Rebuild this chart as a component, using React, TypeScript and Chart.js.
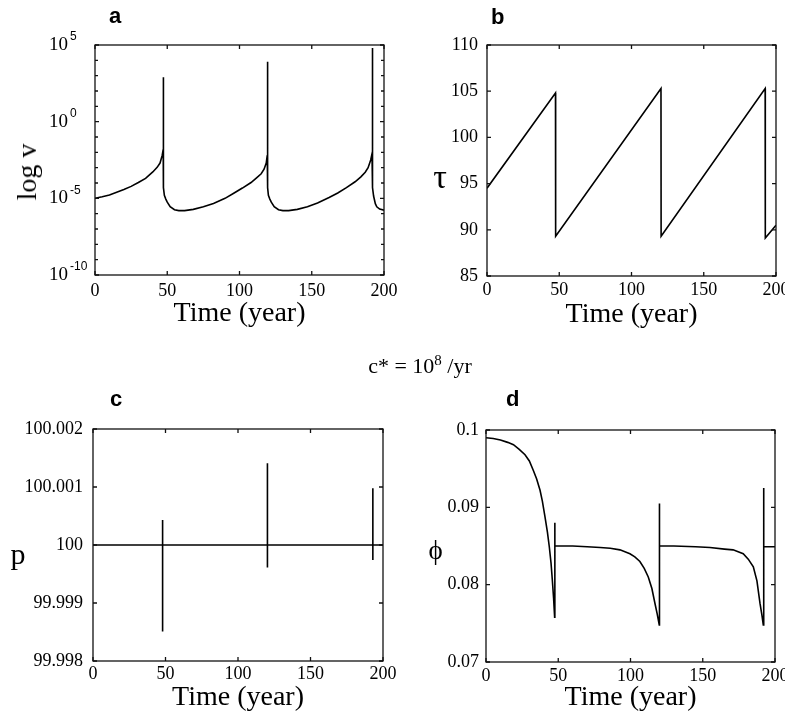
import React, { useEffect, useRef } from "react";
import { Chart, registerables } from "chart.js";
Chart.register(...registerables);

const W = 785;
const H = 723;
const SERIF = '"Liberation Serif", "Times New Roman", serif';
const SANS = '"Liberation Sans", Arial, sans-serif';

// shared time axis
const timeTicks = [0, 50, 100, 150, 200];
const timeTickLabels = ["0", "50", "100", "150", "200"];

// panel a : log v
const timeA = [0, 5, 10, 15, 20, 25, 30, 35, 40, 43, 45, 46.5, 47.2, 47.3, 47.4, 48, 49, 50, 52, 55, 58, 62, 68, 75, 82, 90, 96, 102, 108, 112, 115, 117, 118.5, 119.2, 119.4, 119.5, 120, 121, 122, 124, 127, 130, 134, 140, 147, 154, 162, 168, 174, 180, 184, 187, 189, 190.8, 191.7, 192, 192.1, 192.8, 194, 195, 197, 200];
const logVA = [-5.0, -4.9, -4.78, -4.6, -4.42, -4.22, -3.97, -3.7, -3.28, -2.98, -2.7, -2.2, -1.8, 2.9, -4.3, -4.8, -5.05, -5.25, -5.55, -5.74, -5.8, -5.8, -5.72, -5.55, -5.33, -5.0, -4.67, -4.33, -3.97, -3.65, -3.4, -3.1, -2.7, -2.2, 3.9, -4.3, -4.8, -5.05, -5.25, -5.55, -5.74, -5.8, -5.8, -5.72, -5.55, -5.3, -4.95, -4.65, -4.3, -3.92, -3.6, -3.3, -3.0, -2.5, -2.1, 4.8, -4.3, -4.85, -5.35, -5.55, -5.7, -5.77];
const yTicksA = [-10, -5, 0, 5];
const yExpA = ["-10", "-5", "0", "5"];
const yMinorA = [-9, -8, -7, -6, -4, -3, -2, -1, 1, 2, 3, 4];

// panel b : tau
const timeB = [0, 47.4, 47.5, 120.4, 120.5, 192.5, 192.6, 200];
const tauB = [94.5, 104.8, 89.3, 105.3, 89.3, 105.3, 89.1, 90.5];
const yTicksB = [85, 90, 95, 100, 105, 110];
const yLabelsB = ["85", "90", "95", "100", "105", "110"];

// panel c : p
const timeC = [0, 48, 48, 48, 48, 120.3, 120.3, 120.3, 120.3, 193, 193, 193, 193, 200];
const pC = [100, 100, 100.00043, 99.99851, 100, 100, 100.00141, 99.99961, 100, 100, 100.00098, 99.99974, 100, 100];
const yTicksC = [99.998, 99.999, 100, 100.001, 100.002];
const yLabelsC = ["99.998", "99.999", "100", "100.001", "100.002"];

// panel d : phi
const timeD = [0, 5, 10, 15, 19, 23, 27, 30, 32.7, 35, 37.4, 39, 40.8, 42.5, 43.8, 45, 45.9, 46.8, 47.5, 47.6, 47.7, 50, 60, 70, 79, 86, 92.7, 99.6, 103, 106.5, 109.5, 112.3, 114.8, 116.9, 118.5, 119.9, 120, 120.1, 130, 145, 155, 165, 171, 178, 181.5, 185, 187.5, 189.6, 191, 191.9, 192.1, 192.3, 200];
const phiD = [0.0990, 0.0989, 0.0987, 0.0984, 0.0981, 0.0975, 0.0968, 0.0960, 0.0948, 0.0937, 0.0922, 0.0908, 0.0888, 0.0868, 0.0849, 0.0828, 0.0806, 0.0782, 0.0758, 0.0880, 0.0850, 0.0850, 0.0850, 0.0849, 0.0848, 0.0847, 0.0845, 0.0840, 0.0836, 0.0830, 0.0821, 0.0810, 0.0795, 0.0776, 0.0762, 0.0748, 0.0905, 0.0850, 0.0850, 0.0849, 0.0848, 0.0846, 0.0845, 0.0840, 0.0833, 0.0823, 0.0805, 0.0776, 0.0760, 0.0748, 0.0925, 0.0849, 0.0849];
const yTicksD = [0.07, 0.08, 0.09, 0.1];
const yLabelsD = ["0.07", "0.08", "0.09", "0.1"];

const zip = (xs: number[], ys: number[]) => xs.map((x, i) => ({ x, y: ys[i] }));

const framePlugin = {
  id: "frame",
  afterDatasetsDraw(chart: any, _args: any, opts: any) {
    const { ctx, chartArea } = chart;
    const { left, right, top, bottom } = chartArea;
    const xs = chart.scales.x;
    const ys = chart.scales.y;
    ctx.save();
    ctx.strokeStyle = "#111";
    ctx.lineWidth = 1.3;
    ctx.strokeRect(left, top, right - left, bottom - top);
    ctx.beginPath();
    const L = 4;
    xs.ticks.forEach((t: any) => {
      const px = xs.getPixelForValue(t.value);
      ctx.moveTo(px, bottom); ctx.lineTo(px, bottom - L);
      ctx.moveTo(px, top); ctx.lineTo(px, top + L);
    });
    ys.ticks.forEach((t: any) => {
      const py = ys.getPixelForValue(t.value);
      ctx.moveTo(left, py); ctx.lineTo(left + L, py);
      ctx.moveTo(right, py); ctx.lineTo(right - L, py);
    });
    (opts.minor || []).forEach((v: number) => {
      const py = ys.getPixelForValue(v);
      ctx.moveTo(left, py); ctx.lineTo(left + 3, py);
      ctx.moveTo(right, py); ctx.lineTo(right - 3, py);
    });
    ctx.stroke();
    if (opts.exponents) {
      ctx.font = `${opts.baseSize}px ${SERIF}`;
      const w = ctx.measureText("10").width;
      ctx.font = `12px ${SANS}`;
      ctx.fillStyle = "#000";
      ctx.textAlign = "left";
      ctx.textBaseline = "middle";
      ys.ticks.forEach((t: any, i: number) => {
        const py = ys.getPixelForValue(t.value);
        ctx.fillText(opts.exponents[i], ys.left + w + 2, py - 8);
      });
    }
    ctx.restore();
  },
};

type Panel = {
  points: { x: number; y: number }[];
  rect: [number, number, number, number]; // L T R B
  yW: number;
  xH: number;
  xPad: number;
  yPad: number;
  yMin: number;
  yMax: number;
  yTicks: number[];
  yLabels: string[];
  crossAlign?: string;
  tickSize?: number;
  minor?: number[];
  exponents?: string[];
};

function makeConfig(p: Panel): any {
  const [L, T, R, B] = p.rect;
  const tickFont = { family: SERIF, size: p.tickSize || 18 };
  return {
    type: "line",
    data: {
      datasets: [
        {
          data: p.points,
          borderColor: "#000",
          borderWidth: 1.6,
          pointRadius: 0,
          tension: 0,
          fill: false,
        },
      ],
    },
    plugins: [framePlugin],
    options: {
      responsive: false,
      animation: false,
      events: [],
      layout: { padding: { left: L - p.yW, top: T, right: W - R, bottom: H - B - p.xH } },
      plugins: {
        legend: { display: false },
        tooltip: { enabled: false },
        frame: { minor: p.minor, exponents: p.exponents, baseSize: p.tickSize || 18 },
      },
      scales: {
        x: {
          type: "linear",
          min: 0,
          max: 200,
          grid: { display: false, drawTicks: false },
          border: { display: false },
          afterBuildTicks: (s: any) => {
            s.ticks = timeTicks.map((v) => ({ value: v }));
          },
          ticks: {
            padding: p.xPad,
            font: { family: SERIF, size: 18 },
            color: "#000",
            maxRotation: 0,
            autoSkip: false,
            callback: (_v: any, i: number) => timeTickLabels[i],
          },
          title: {
            display: true,
            text: "Time (year)",
            color: "#000",
            font: { family: SERIF, size: 28, lineHeight: 1 },
            padding: 0,
          },
          afterFit: (s: any) => {
            s.height = p.xH;
            s.paddingLeft = 0;
            s.paddingRight = 0;
          },
        },
        y: {
          type: "linear",
          min: p.yMin,
          max: p.yMax,
          grid: { display: false, drawTicks: false },
          border: { display: false },
          afterBuildTicks: (s: any) => {
            s.ticks = p.yTicks.map((v) => ({ value: v }));
          },
          ticks: {
            padding: p.yPad,
            font: tickFont,
            color: "#000",
            autoSkip: false,
            crossAlign: p.crossAlign || "near",
            callback: (_v: any, i: number) => p.yLabels[i],
          },
          afterFit: (s: any) => {
            s.width = p.yW;
            s.paddingTop = 0;
            s.paddingBottom = 0;
          },
        },
      },
    },
  };
}

const panels: Panel[] = [
  {
    points: zip(timeA, logVA),
    rect: [95, 45, 384, 275],
    yW: 46,
    xH: 53,
    xPad: 5,
    yPad: 8,
    yMin: -10,
    yMax: 5,
    yTicks: yTicksA,
    yLabels: yTicksA.map(() => "10"),
    crossAlign: "far",
    tickSize: 19,
    minor: yMinorA,
    exponents: yExpA,
  },
  {
    points: zip(timeB, tauB),
    rect: [487, 45, 776, 276],
    yW: 60,
    xH: 53,
    xPad: 3,
    yPad: 9,
    yMin: 85,
    yMax: 110,
    yTicks: yTicksB,
    yLabels: yLabelsB,
  },
  {
    points: zip(timeC, pC),
    rect: [93, 429, 383, 661],
    yW: 80,
    xH: 51,
    xPad: 2,
    yPad: 10,
    yMin: 99.998,
    yMax: 100.002,
    yTicks: yTicksC,
    yLabels: yLabelsC,
  },
  {
    points: zip(timeD, phiD),
    rect: [486, 430, 775, 662],
    yW: 60,
    xH: 50,
    xPad: 3,
    yPad: 7,
    yMin: 0.07,
    yMax: 0.1,
    yTicks: yTicksD,
    yLabels: yLabelsD,
  },
];

function Txt(props: {
  x: number;
  baseline: number;
  size: number;
  family?: string;
  bold?: boolean;
  center?: boolean;
  children: React.ReactNode;
}) {
  const fam = props.family || SERIF;
  const k = fam === SANS ? 0.8465 : 0.8375;
  return (
    <div
      style={{
        position: "absolute",
        left: props.x,
        top: props.baseline - k * props.size,
        fontFamily: fam,
        fontSize: props.size,
        fontWeight: props.bold ? "bold" : "normal",
        lineHeight: `${props.size}px`,
        whiteSpace: "nowrap",
        transform: props.center ? "translateX(-50%)" : undefined,
        color: "#000",
      }}
    >
      {props.children}
    </div>
  );
}

export default function App() {
  const r0 = useRef<HTMLCanvasElement>(null);
  const r1 = useRef<HTMLCanvasElement>(null);
  const r2 = useRef<HTMLCanvasElement>(null);
  const r3 = useRef<HTMLCanvasElement>(null);

  useEffect(() => {
    const refs = [r0, r1, r2, r3];
    const charts = panels.map((p, i) => new Chart(refs[i].current as HTMLCanvasElement, makeConfig(p)));
    return () => charts.forEach((c) => c.destroy());
  }, []);

  const cs: React.CSSProperties = { position: "absolute", left: 0, top: 0 };
  return (
    <div
      style={{
        position: "fixed",
        left: 0,
        top: 0,
        width: W,
        height: H,
        overflow: "hidden",
        background: "#fff",
      }}
    >
      <canvas ref={r0} width={W} height={H} style={cs} />
      <canvas ref={r1} width={W} height={H} style={cs} />
      <canvas ref={r2} width={W} height={H} style={cs} />
      <canvas ref={r3} width={W} height={H} style={cs} />

      <Txt x={109} baseline={23.5} size={22} family={SANS} bold>a</Txt>
      <Txt x={491} baseline={25} size={22} family={SANS} bold>b</Txt>
      <Txt x={110} baseline={406.5} size={22} family={SANS} bold>c</Txt>
      <Txt x={506} baseline={406.5} size={22} family={SANS} bold>d</Txt>

      <Txt x={420} baseline={373} size={22} center>
        c* = 10<sup style={{ fontSize: "0.68em", lineHeight: 0 }}>8</sup> /yr
      </Txt>

      <div
        style={{
          position: "absolute",
          left: 27,
          top: 172,
          transform: "translate(-50%, -50%) rotate(-90deg)",
          fontFamily: SERIF,
          fontSize: 28,
          lineHeight: "28px",
          whiteSpace: "nowrap",
        }}
      >
        log v
      </div>
      <Txt x={440} baseline={188} size={34} center>τ</Txt>
      <Txt x={18} baseline={564} size={30} center>p</Txt>
      <Txt x={435.5} baseline={560} size={27} center>ϕ</Txt>
    </div>
  );
}
